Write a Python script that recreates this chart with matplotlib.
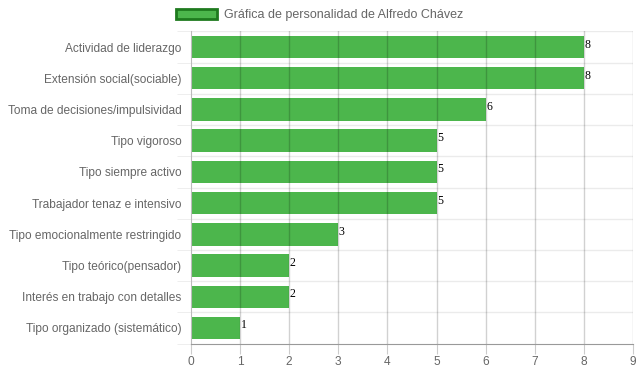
import matplotlib
matplotlib.use("Agg")
import matplotlib.pyplot as plt
from matplotlib.patches import Patch
import numpy as np

categories = ["Actividad de liderazgo", "Extensión social(sociable)",
              "Toma de decisiones/impulsividad", "Tipo vigoroso",
              "Tipo siempre activo", "Trabajador tenaz e intensivo",
              "Tipo emocionalmente restringido", "Tipo teórico(pensador)",
              "Interés en trabajo con detalles", "Tipo organizado (sistemático)"]
values = [8, 8, 6, 5, 5, 5, 3, 2, 2, 1]
series_name = "Gráfica de personalidad de Alfredo Chávez"
xticks = list(range(0, 10))

plt.rcParams['font.family'] = ['Liberation Sans', 'DejaVu Sans']

fig = plt.figure(figsize=(6.39, 3.72), dpi=100)
ax = fig.add_axes([191/639, 28.4/372, 442/639, 312.2/372])

y = np.arange(len(categories))
ax.set_xlim(0, 9)
ax.set_ylim(len(categories) - 0.5, -0.5)

# grid
for xv in xticks[1:]:
    ax.axvline(xv, color='black', lw=1, zorder=3, alpha=0.18)
for b in np.arange(-0.5, len(categories) - 0.5, 1.0):
    ax.axhline(b, color='#ebebeb', lw=1, zorder=0)

ax.barh(y, values, height=0.72, color='#4cb64c', zorder=2)
for yi, v in zip(y, values):
    ax.text(v + 0.01, yi - 0.08, str(v), va='center', ha='left', fontsize=8.5,
            family=['Liberation Serif', 'DejaVu Serif'], color='black', zorder=5)

ax.set_yticks(y)
ax.set_yticklabels(categories, fontsize=8.6, color='#666666')
ax.set_xticks(xticks)
ax.set_xticklabels([str(t) for t in xticks], fontsize=8.6, color='#666666')
ax.tick_params(axis='y', length=0, pad=7)
ax.tick_params(axis='x', length=7, color='#cccccc', pad=2)
ax.set_yticks(np.arange(-0.5, len(categories), 1.0), minor=True)
ax.tick_params(axis='y', which='minor', length=10, color='#ebebeb')

for s in ['top', 'right']:
    ax.spines[s].set_visible(False)
ax.spines['left'].set_color('#bbbbbb')
ax.spines['bottom'].set_color('#999999')

handle = Patch(facecolor='#4cb64c', edgecolor='#1e7a1e', linewidth=2)
fig.legend([handle], [series_name], loc='upper center', bbox_to_anchor=(0.5, 1.0),
           frameon=False, fontsize=9, labelcolor='#666666',
           handlelength=3.3, handleheight=0.9, handletextpad=0.6,
           borderaxespad=0.3, bbox_transform=fig.transFigure)

fig.savefig("out.png", dpi=100)
